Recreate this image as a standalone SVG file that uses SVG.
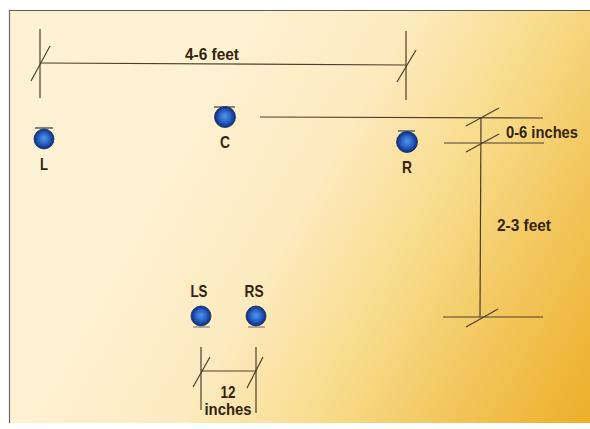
<svg xmlns="http://www.w3.org/2000/svg" width="590" height="429" viewBox="0 0 590 429">
<defs>
<linearGradient id="bg" gradientUnits="userSpaceOnUse" x1="150" y1="150" x2="590" y2="400">
<stop offset="0" stop-color="#FEF2D4"/>
<stop offset="0.31" stop-color="#FDEBC0"/>
<stop offset="0.56" stop-color="#F8DB8A"/>
<stop offset="0.75" stop-color="#F3C860"/>
<stop offset="1" stop-color="#EDB12C"/>
</linearGradient>
<radialGradient id="ball" cx="0.5" cy="0.5" r="0.5" fx="0.5" fy="0.45">
<stop offset="0" stop-color="#4F97EC"/>
<stop offset="0.55" stop-color="#2A62C4"/>
<stop offset="1" stop-color="#0D2B78"/>
</radialGradient>
<style>
.dim{stroke:#4E3E2A;stroke-width:1.2;fill:none}
.base{stroke:#6B665E;stroke-width:1.6}
.t{font-family:"Liberation Sans",Arial,sans-serif;font-weight:bold;font-size:16.5px;fill:#33230F;text-anchor:middle}
.spk{fill:url(#ball);stroke:#12306E;stroke-width:0.8}
</style>
</defs>
<rect x="0" y="0" width="590" height="429" fill="#FFFFFF"/>
<rect x="9" y="10" width="581" height="413" fill="url(#bg)"/>
<line x1="9.5" y1="10" x2="9.5" y2="423" stroke="#6E6A62" stroke-width="1.2"/>
<line x1="9" y1="10.5" x2="590" y2="10.5" stroke="#5E5A52" stroke-width="1.2"/>

<g id="connectors">
<line class="dim" x1="40" y1="29" x2="40" y2="98"/>
<line class="dim" x1="406" y1="31" x2="406" y2="100"/>
<line class="dim" x1="40" y1="63" x2="406" y2="65"/>
<line class="dim" x1="31" y1="81" x2="50" y2="46"/>
<line class="dim" x1="397" y1="82" x2="416" y2="50"/>
<line class="dim" x1="260" y1="117" x2="543" y2="118"/>
<line class="dim" x1="444" y1="143" x2="544" y2="143"/>
<line class="dim" x1="443" y1="317" x2="543" y2="317"/>
<line class="dim" x1="481" y1="117" x2="480" y2="317"/>
<line class="dim" x1="466" y1="126" x2="499" y2="108"/>
<line class="dim" x1="466" y1="152" x2="499" y2="134"/>
<line class="dim" x1="466" y1="327" x2="498" y2="309"/>
<line class="dim" x1="201" y1="347" x2="201" y2="410"/>
<line class="dim" x1="256" y1="347" x2="256" y2="413"/>
<line class="dim" x1="201" y1="371" x2="256" y2="371"/>
<line class="dim" x1="193" y1="387" x2="210" y2="357"/>
<line class="dim" x1="247" y1="388" x2="263" y2="357"/>
</g>

<g id="dim-labels">
<text class="t" x="212" y="60" textLength="54" lengthAdjust="spacingAndGlyphs">4-6 feet</text>
<text class="t" x="542" y="138" textLength="72" lengthAdjust="spacingAndGlyphs">0-6 inches</text>
<text class="t" x="524" y="231" textLength="54" lengthAdjust="spacingAndGlyphs">2-3 feet</text>
<text class="t" x="228" y="398" textLength="15" lengthAdjust="spacingAndGlyphs">12</text>
<text class="t" x="228" y="415" textLength="47" lengthAdjust="spacingAndGlyphs">inches</text>
</g>

<g id="speaker-L">
<line class="base" x1="35" y1="128" x2="53" y2="128"/>
<circle class="spk" cx="44" cy="139" r="10"/>
<text class="t" x="44" y="170" textLength="8" lengthAdjust="spacingAndGlyphs">L</text>
</g>
<g id="speaker-C">
<line class="base" x1="214" y1="107" x2="235" y2="107"/>
<circle class="spk" cx="225" cy="117" r="10.5"/>
<text class="t" x="225" y="148" textLength="10" lengthAdjust="spacingAndGlyphs">C</text>
</g>
<g id="speaker-R">
<line class="base" x1="398" y1="131" x2="415" y2="131"/>
<circle class="spk" cx="407" cy="142" r="10.5"/>
<text class="t" x="407" y="173" textLength="10" lengthAdjust="spacingAndGlyphs">R</text>
</g>
<g id="speaker-LS">
<text class="t" x="199" y="297" textLength="17" lengthAdjust="spacingAndGlyphs">LS</text>
<line class="base" x1="193" y1="327" x2="210" y2="327" stroke-opacity="0.6"/>
<circle class="spk" cx="201" cy="316" r="10"/>
</g>
<g id="speaker-RS">
<text class="t" x="254" y="297" textLength="19" lengthAdjust="spacingAndGlyphs">RS</text>
<line class="base" x1="248" y1="327" x2="265" y2="327" stroke-opacity="0.6"/>
<circle class="spk" cx="256" cy="316" r="10"/>
</g>
</svg>
